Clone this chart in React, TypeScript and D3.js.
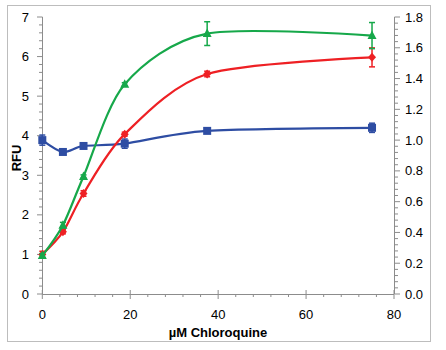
import React from "react";
import * as d3 from "d3";

const conc = [0, 4.6875, 9.375, 18.75, 37.5, 75];
const blueRight = [1.0, 0.923, 0.962, 0.977, 1.06, 1.08];
const blueErr = [0.033, 0.01, 0.012, 0.03, 0.014, 0.03];
const redRFU = [1.0, 1.57, 2.54, 4.04, 5.56, 5.98];
const redErr = [0.08, 0.05, 0.07, 0.05, 0.07, 0.24];
const greenRFU = [0.97, 1.74, 2.97, 5.3, 6.58, 6.53];
const greenErr = [0.05, 0.07, 0.04, 0.04, 0.3, 0.33];
const xTicks = [0, 20, 40, 60, 80];
const leftTicks = [0, 1, 2, 3, 4, 5, 6, 7];
const rightTicks = [0, 0.2, 0.4, 0.6, 0.8, 1.0, 1.2, 1.4, 1.6, 1.8];

const W = 446, H = 350;
const x = d3.scaleLinear().domain([0, 80]).range([42.3, 394]);
const yL = d3.scaleLinear().domain([0, 7]).range([294, 17]);
const yR = d3.scaleLinear().domain([0, 1.8]).range([294, 17]);

const GREEN = "#16a84a";
const RED = "#ee2024";
const BLUE = "#2e4da3";
const AX = "#8c8c8c";

function Series({ vals, errs, scale, color, shape }: any) {
  const pts = conc.map((c, i) => [x(c), scale(vals[i])] as [number, number]);
  const line = d3.line().curve(d3.curveCardinal.tension(0.15))(pts) || "";
  return (
    <g>
      <path d={line} fill="none" stroke={color} strokeWidth={2.2} />
      {conc.map((c, i) => {
        const cx = x(c);
        const y1 = scale(vals[i] + errs[i]);
        const y2 = scale(vals[i] - errs[i]);
        return (
          <g key={i}>
            <line x1={cx} x2={cx} y1={y1} y2={y2} stroke={color} strokeWidth={1.5} />
            <line x1={cx - 3} x2={cx + 3} y1={y1} y2={y1} stroke={color} strokeWidth={1.5} />
            <line x1={cx - 3} x2={cx + 3} y1={y2} y2={y2} stroke={color} strokeWidth={1.5} />
          </g>
        );
      })}
      {pts.map(([px, py], i) => {
        if (shape === "square")
          return <rect key={"m" + i} x={px - 4} y={py - 4} width={8} height={8} fill={color} />;
        if (shape === "diamond")
          return (
            <path key={"m" + i} d={`M${px},${py - 4.5}L${px + 4},${py}L${px},${py + 4.5}L${px - 4},${py}Z`} fill={color} />
          );
        return (
          <path key={"m" + i} d={`M${px},${py - 5}L${px + 4.5},${py + 3.5}L${px - 4.5},${py + 3.5}Z`} fill={color} />
        );
      })}
    </g>
  );
}

export default function App() {
  const xMinor = d3.range(0, 80.01, 4);
  const lMinor = d3.range(0, 7.001, 0.2);
  const rMinor = d3.range(0, 1.8001, 0.04);
  const font = "Liberation Sans, Arial, sans-serif";
  return (
    <svg width={W} height={H} style={{ position: "absolute", left: 0, top: 0 }} fontFamily={font}>
      <rect x={0} y={0} width={W} height={H} fill="#fff" />
      <rect x={7.5} y={5.5} width={423} height={336} fill="none" stroke="#bdbdbd" strokeWidth={1} />
      {/* x axis */}
      <line x1={x(0)} x2={x(80)} y1={294.5} y2={294.5} stroke={AX} strokeWidth={1} />
      {xMinor.map((v, i) => {
        const major = Math.abs(v % 20) < 1e-6;
        return <line key={i} x1={x(v)} x2={x(v)} y1={major ? 290 : 294} y2={major ? 299 : 297} stroke={AX} />;
      })}
      {xTicks.map((v) => (
        <text key={v} x={x(v)} y={318.5} fontSize={13} textAnchor="middle" fill="#000">{v}</text>
      ))}
      {/* left axis */}
      <line x1={42.5} x2={42.5} y1={17} y2={294} stroke={AX} />
      {lMinor.map((v, i) => (
        <line key={i} x1={Math.abs(v - Math.round(v)) < 1e-6 ? 37 : 39} x2={42.5} y1={yL(v)} y2={yL(v)} stroke={AX} />
      ))}
      {leftTicks.map((v) => (
        <text key={v} x={29} y={yL(v) + 4.5} fontSize={13} textAnchor="end" fill="#000">{v}</text>
      ))}
      {/* right axis */}
      <line x1={394.5} x2={394.5} y1={17} y2={294} stroke={AX} />
      {rMinor.map((v, i) => {
        const major = Math.abs(v / 0.2 - Math.round(v / 0.2)) < 1e-6;
        return <line key={i} x1={394.5} x2={major ? 400 : 398} y1={yR(v)} y2={yR(v)} stroke={AX} />;
      })}
      {rightTicks.map((v) => (
        <text key={v} x={405} y={yR(v) + 4.5} fontSize={13} textAnchor="start" fill="#000">{v.toFixed(1)}</text>
      ))}
      {/* titles */}
      <text x={218} y={336.5} fontSize={13} fontWeight="bold" textAnchor="middle" fill="#000">µM Chloroquine</text>
      <text transform="translate(21,158) rotate(-90)" fontSize={13} fontWeight="bold" textAnchor="middle" fill="#000">RFU</text>
      <Series vals={blueRight} errs={blueErr} scale={yR} color={BLUE} shape="square" />
      <Series vals={redRFU} errs={redErr} scale={yL} color={RED} shape="diamond" />
      <Series vals={greenRFU} errs={greenErr} scale={yL} color={GREEN} shape="triangle" />
    </svg>
  );
}
